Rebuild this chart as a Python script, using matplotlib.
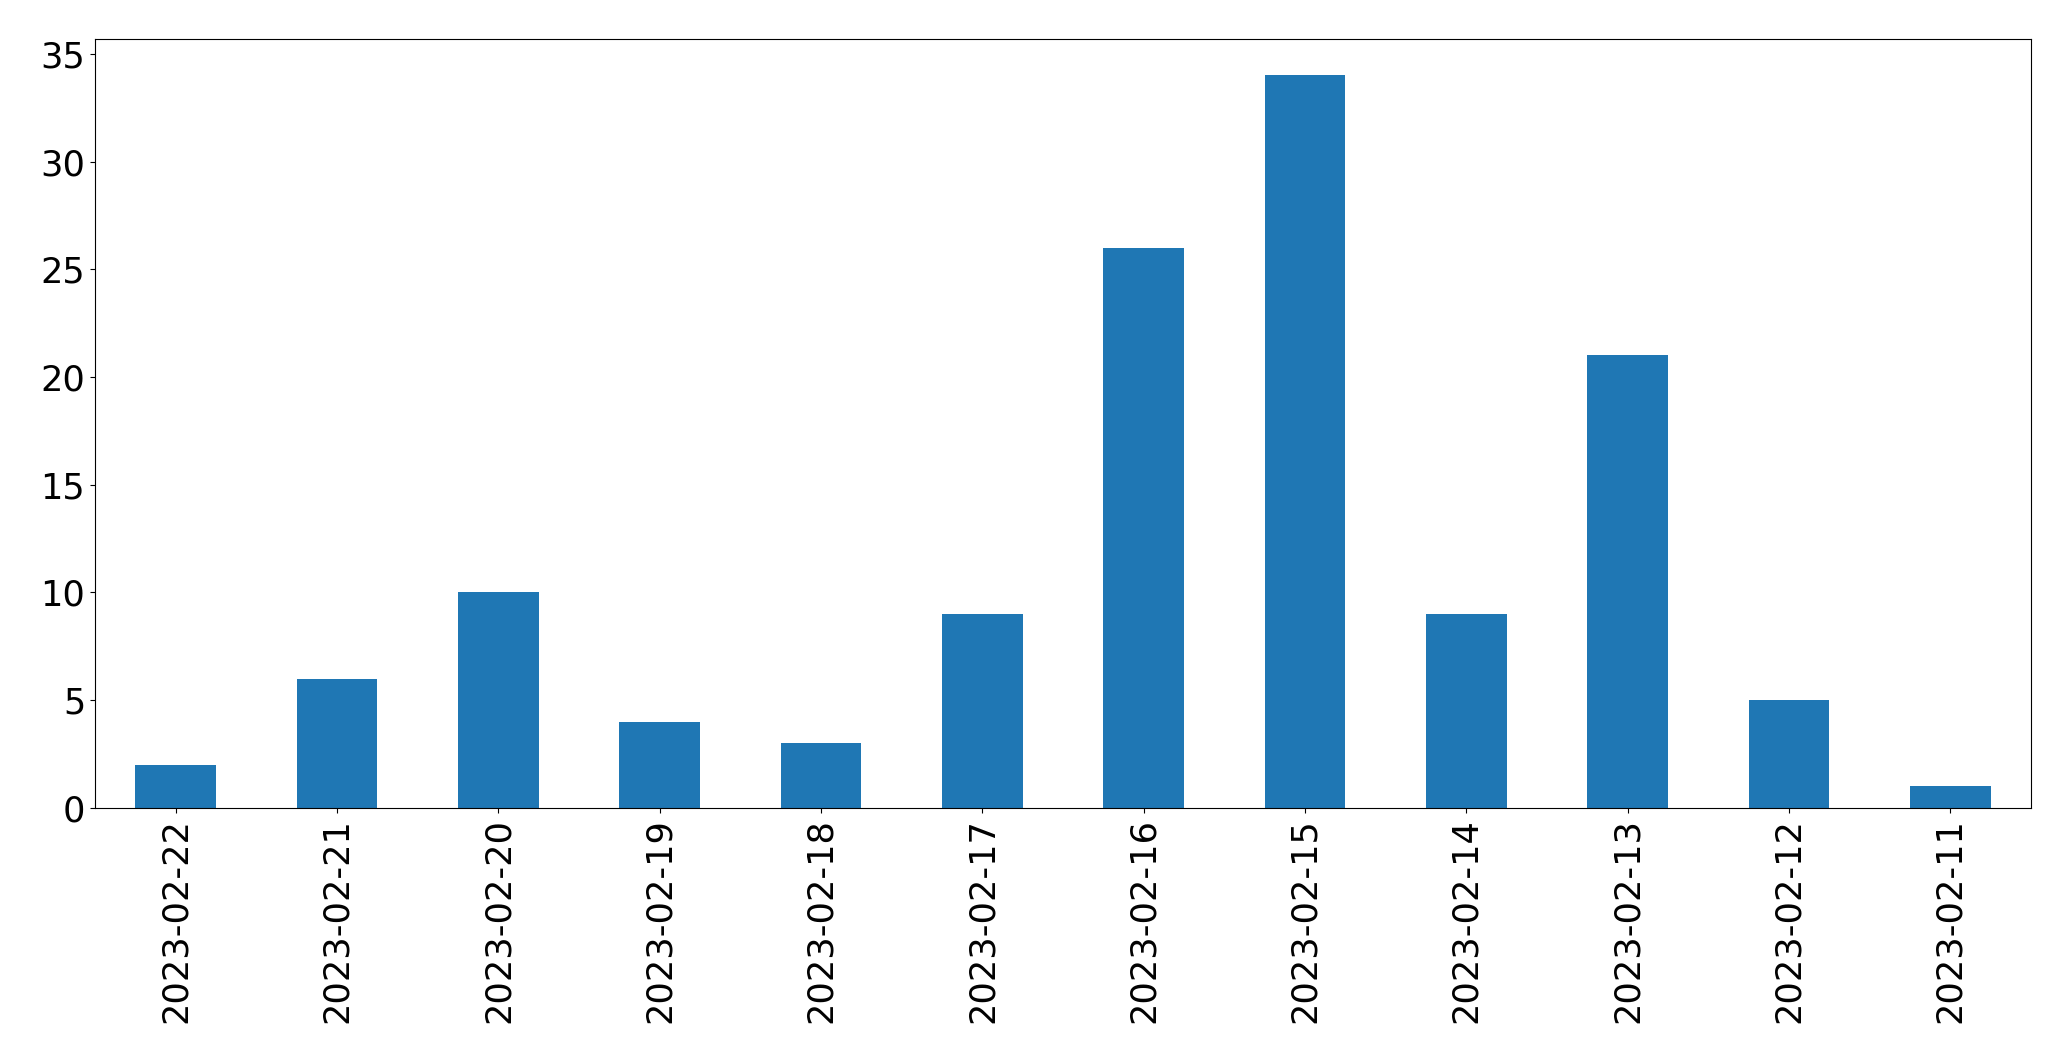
import matplotlib
matplotlib.use("Agg")
import matplotlib.pyplot as plt
import numpy as np

dates = ["2023-02-22", "2023-02-21", "2023-02-20", "2023-02-19", "2023-02-18", "2023-02-17",
         "2023-02-16", "2023-02-15", "2023-02-14", "2023-02-13", "2023-02-12", "2023-02-11"]
counts = [2, 6, 10, 4, 3, 9, 26, 34, 9, 21, 5, 1]

fig = plt.figure(figsize=(20.71, 10.61), dpi=100)
ax = fig.add_subplot(1, 1, 1)
fig.subplots_adjust(left=0.0459, right=0.9807, top=0.9635, bottom=0.2385)

x = np.arange(len(dates))
ax.bar(x, counts, width=0.5, color="#1f77b4")
ax.set_xlim(-0.5, len(dates) - 0.5)
ax.set_ylim(0, max(counts) * 1.05)
ax.set_xticks(x)
ax.set_xticklabels(dates, rotation=90)
ax.tick_params(labelsize=25.3)

plt.savefig("out.png", dpi=100)
